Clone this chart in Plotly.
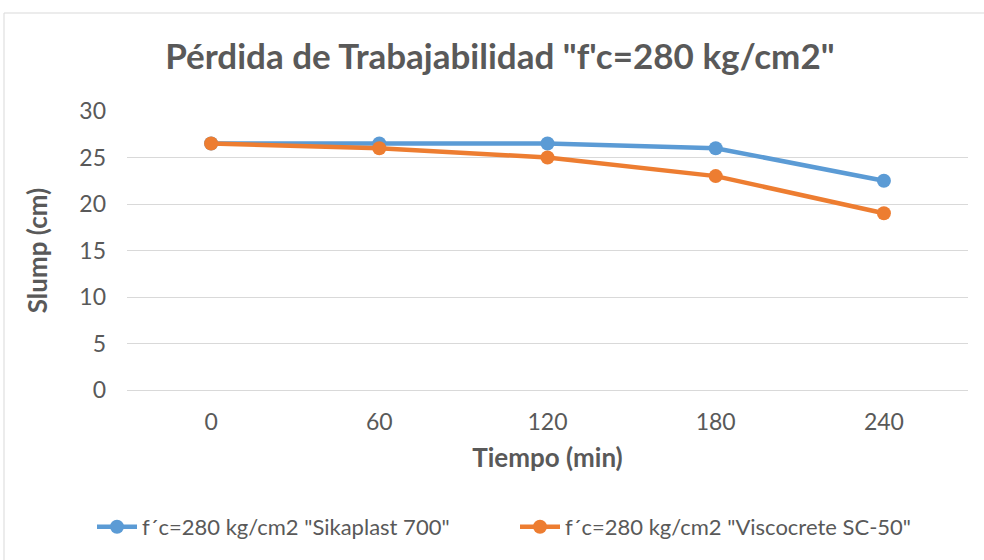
import plotly.graph_objects as go

tiempo = ["0", "60", "120", "180", "240"]
sikaplast = [26.5, 26.5, 26.5, 26.0, 22.5]
viscocrete = [26.5, 26.0, 25.0, 23.0, 19.0]
series_names = ['f´c=280 kg/cm2 "Sikaplast 700"', 'f´c=280 kg/cm2 "Viscocrete SC-50"']
y_ticks = [0, 5, 10, 15, 20, 25, 30]

FONT = "Lato, Open Sans, Arial"
GRAY = "#595959"

fig = go.Figure()
fig.add_trace(go.Scatter(x=tiempo, y=sikaplast, name=series_names[0], mode="lines+markers",
                         line=dict(color="#5b9bd5", width=4.5), marker=dict(size=14, color="#5b9bd5")))
fig.add_trace(go.Scatter(x=tiempo, y=viscocrete, name=series_names[1], mode="lines+markers",
                         line=dict(color="#ed7d31", width=4.5), marker=dict(size=14, color="#ed7d31")))

fig.update_layout(
    width=984, height=560,
    margin=dict(l=127, r=16, t=111, b=170),
    paper_bgcolor="white", plot_bgcolor="white",
    font=dict(family=FONT, color=GRAY, size=23),
    title=dict(text='<b>Pérdida de Trabajabilidad "f\'c=280 kg/cm2"</b>', x=0.508, xanchor="center",
               y=1 - 57 / 560, yanchor="middle", font=dict(size=35, color=GRAY, family=FONT)),
    xaxis=dict(type="category", range=[-0.5, 4.5], showgrid=False, showline=False, ticks="",
               title=dict(text="<b>Tiempo (min)</b>", font=dict(size=26, color=GRAY), standoff=14),
               tickfont=dict(size=23, color=GRAY), ticklabelstandoff=16),
    yaxis=dict(range=[0, 30], tickvals=y_ticks, showgrid=True, gridcolor="#d9d9d9", gridwidth=1,
               zeroline=True, zerolinecolor="#d9d9d9", zerolinewidth=1, showline=False,
               title=dict(text="<b>Slump (cm)</b>", font=dict(size=26, color=GRAY), standoff=24),
               tickfont=dict(size=23, color=GRAY), ticks="", ticklabelstandoff=20),
    legend=dict(orientation="h", x=(92 - 127) / 841, xanchor="left", y=(390 - 527) / 279,
                yanchor="middle", font=dict(size=22, color=GRAY), itemwidth=40,
                entrywidth=368, tracegroupgap=0),
    showlegend=True,
)

fig.add_shape(type="rect", xref="paper", yref="paper",
              x0=(4 - 127) / 841, x1=(990 - 127) / 841, y0=(390 - 575) / 279, y1=(390 - 13) / 279,
              line=dict(color="#d9d9d9", width=1), layer="below")

fig.write_html("out.html", post_script="document.body.style.margin='0';",
               config={"displayModeBar": False})
